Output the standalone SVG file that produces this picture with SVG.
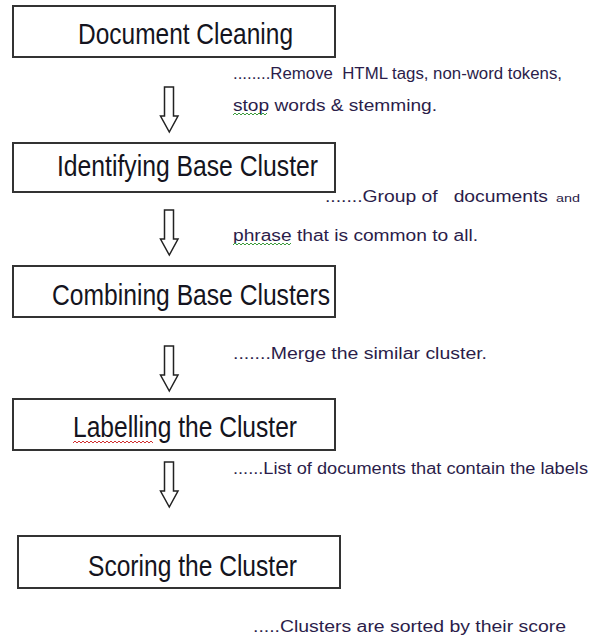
<svg xmlns="http://www.w3.org/2000/svg" width="600" height="639" viewBox="0 0 600 639">
<style>
.box{fill:#fff;stroke:#333;stroke-width:2}
.lbl{font-family:"Liberation Sans",Arial,sans-serif;font-size:29px;fill:#141420}
.note{font-family:"Liberation Sans",Arial,sans-serif;font-size:16px;fill:#2b1d4a;white-space:pre}
use{fill:#fff;stroke:#222;stroke-width:1.5}
.sq{fill:none;stroke-width:1}
</style>
<defs>
<path id="arr" d="M164.5,0 H173.5 V29 H178 L169.3,45 L160.5,29 H164.5 Z"/>
</defs>
<rect width="600" height="639" fill="#fff"/>

<g id="node-cleaning">
<rect class="box" x="13" y="6" width="322" height="51"/>
<text class="lbl" x="78" y="44" textLength="215" lengthAdjust="spacingAndGlyphs">Document Cleaning</text>
</g>
<g id="node-identifying">
<rect class="box" x="13" y="143" width="322" height="49"/>
<text class="lbl" x="57" y="176" textLength="261" lengthAdjust="spacingAndGlyphs">Identifying Base Cluster</text>
</g>
<g id="node-combining">
<rect class="box" x="13" y="266" width="322" height="51"/>
<text class="lbl" x="52" y="305" textLength="278" lengthAdjust="spacingAndGlyphs">Combining Base Clusters</text>
</g>
<g id="node-labelling">
<rect class="box" x="13" y="399" width="322" height="51"/>
<text class="lbl" x="73" y="437" textLength="224" lengthAdjust="spacingAndGlyphs">Labelling the Cluster</text>
</g>
<g id="node-scoring">
<rect class="box" x="18" y="536" width="322" height="52"/>
<text class="lbl" x="88" y="576" textLength="209" lengthAdjust="spacingAndGlyphs">Scoring the Cluster</text>
</g>

<g id="connectors">
<use href="#arr" transform="translate(0,87)"/>
<use href="#arr" transform="translate(0,210)"/>
<use href="#arr" transform="translate(0,346)"/>
<use href="#arr" transform="translate(0,462)"/>
</g>

<g id="notes">
<text class="note" x="233" y="79" textLength="329" lengthAdjust="spacingAndGlyphs">........Remove  HTML tags, non-word tokens,</text>
<text class="note" x="233" y="111" textLength="204" lengthAdjust="spacingAndGlyphs">stop words &amp; stemming.</text>
<text class="note" x="325" y="202" textLength="223" lengthAdjust="spacingAndGlyphs">.......Group of   documents</text>
<text class="note" x="556" y="202" style="font-size:10.5px" textLength="24" lengthAdjust="spacingAndGlyphs">and</text>
<text class="note" x="233" y="241" textLength="245" lengthAdjust="spacingAndGlyphs">phrase that is common to all.</text>
<text class="note" x="233" y="359" textLength="254" lengthAdjust="spacingAndGlyphs">.......Merge the similar cluster.</text>
<text class="note" x="233" y="474" textLength="355" lengthAdjust="spacingAndGlyphs">......List of documents that contain the labels</text>
<text class="note" x="253" y="632" textLength="313" lengthAdjust="spacingAndGlyphs">.....Clusters are sorted by their score</text>
<path class="sq" stroke="#3a9a3a" d="M233,115 l2,-2 l2,2 l2,-2 l2,2 l2,-2 l2,2 l2,-2 l2,2 l2,-2 l2,2 l2,-2 l2,2 l2,-2 l2,2 l2,-2 l2,2 l2,-2"/>
<path class="sq" stroke="#3a9a3a" d="M233,245 l2,-2 l2,2 l2,-2 l2,2 l2,-2 l2,2 l2,-2 l2,2 l2,-2 l2,2 l2,-2 l2,2 l2,-2 l2,2 l2,-2 l2,2 l2,-2 l2,2 l2,-2 l2,2 l2,-2 l2,2 l2,-2 l2,2 l2,-2 l2,2 l2,-2 l2,2 l2,-2"/>
<path class="sq" stroke="#d03030" d="M73,443 l2,-2 l2,2 l2,-2 l2,2 l2,-2 l2,2 l2,-2 l2,2 l2,-2 l2,2 l2,-2 l2,2 l2,-2 l2,2 l2,-2 l2,2 l2,-2 l2,2 l2,-2 l2,2 l2,-2 l2,2 l2,-2 l2,2 l2,-2 l2,2 l2,-2 l2,2 l2,-2 l2,2 l2,-2 l2,2 l2,-2 l2,2 l2,-2 l2,2 l2,-2 l2,2 l2,-2 l2,2"/>
</g>
</svg>
